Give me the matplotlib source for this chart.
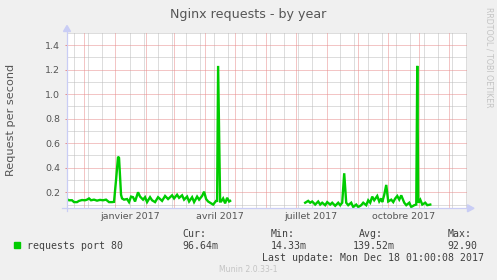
import datetime as dt
import numpy as np
import matplotlib
matplotlib.use("Agg")
import matplotlib.pyplot as plt
from matplotlib.lines import Line2D
from matplotlib.patches import Polygon, Rectangle

# time window of the munin "by year" graph (400 days)
start = dt.datetime(2016, 11, 14)
end = dt.datetime(2017, 12, 19)

# day offsets from start / requests per second (nan = no data)
days = [0, 2, 5, 7, 10, 12, 15, 18, 20, 22, 24, 27, 30, 33, 36, 39, 42, 45, 47,
        49, 51, 52, 54, 55, 57, 60, 62, 64, 66, 68, 71, 73, 76, 78, 80, 83, 85,
        88, 91, 95, 98, 101, 105, 107, 110, 112, 115, 117, 120, 122, 125, 127,
        130, 132, 135, 137, 139, 141, 144, 146, 149, 150, 151, 153, 154, 156,
        158, 160, 162, 163,
        200,
        238, 241, 243, 245, 248, 251, 253, 255, 258, 260, 263, 265, 268, 271,
        273, 275, 277, 279, 281, 284, 286, 289, 291, 294, 296, 299, 301, 303,
        305, 307, 310, 312, 314, 315, 317, 319, 321, 324, 326, 328, 330, 332,
        334, 337, 339, 342, 344, 347, 349, 350, 351, 353, 355, 358, 360, 363]
reqs = [0.143, 0.135, 0.135, 0.12, 0.12, 0.13, 0.137, 0.135, 0.14, 0.15, 0.135,
        0.14, 0.132, 0.138, 0.135, 0.14, 0.12, 0.12, 0.122,
        0.30, 0.49, 0.48, 0.18, 0.15, 0.14, 0.145, 0.12, 0.165, 0.16, 0.125,
        0.2, 0.165, 0.14, 0.16, 0.12, 0.16, 0.135,
        0.12, 0.16, 0.13, 0.17, 0.145, 0.175, 0.15, 0.18, 0.155, 0.175, 0.14,
        0.165, 0.125, 0.16, 0.12,
        0.165, 0.14, 0.17, 0.205, 0.145, 0.125, 0.11, 0.10, 0.13, 0.13, 1.23,
        0.125, 0.125, 0.15,
        0.11, 0.155, 0.125, 0.13,
        np.nan,
        0.115, 0.13, 0.115, 0.125, 0.10, 0.125, 0.10, 0.115, 0.095, 0.12, 0.10,
        0.115, 0.09, 0.115,
        0.095, 0.115, 0.355, 0.115, 0.095, 0.115, 0.08, 0.10, 0.08, 0.095,
        0.115, 0.095, 0.135, 0.115,
        0.165, 0.135, 0.17, 0.125, 0.15, 0.12, 0.18, 0.26, 0.125, 0.14, 0.12,
        0.15, 0.17, 0.14,
        0.175, 0.115, 0.095, 0.115, 0.08, 0.095, 0.10, 1.23, 0.115, 0.14, 0.10,
        0.115, 0.095, 0.10]

month_labels = ["janvier 2017", "avril 2017", "juillet 2017", "octobre 2017"]
label_dates = [dt.datetime(2017, 1, 16), dt.datetime(2017, 4, 16),
               dt.datetime(2017, 7, 16), dt.datetime(2017, 10, 16)]
y_major = [0.2, 0.4, 0.6, 0.8, 1.0, 1.2, 1.4]
y_minor = [0.1, 0.3, 0.5, 0.7, 0.9, 1.1, 1.3, 1.5]

series_name = "requests port 80"
stat_names = ["Cur:", "Min:", "Avg:", "Max:"]
stat_values = ["96.64m", "14.33m", "139.52m", "92.90"]
last_update = "Last update: Mon Dec 18 01:00:08 2017"

W, H = 497, 280
bg = "#f0f0f0"
txt = "#555555"
red_grid = "#e98c8c"
gray_grid = "#bcbcbc"
axis_col = "#c9cdf5"

fig = plt.figure(figsize=(W / 100, H / 100), dpi=100, facecolor=bg)

def fx(px):
    return px / W

def fy(py):
    return 1 - py / H

ax = fig.add_axes([fx(67), fy(208), fx(467.3) - fx(67), fy(33) - fy(208)])
ax.set_facecolor("white")
for s in ax.spines.values():
    s.set_visible(False)

x = [start + dt.timedelta(days=d) for d in days]
ax.set_xlim(start, end)
ax.set_ylim(0.072, 1.498)

grid_kw = dict(lw=0.72, ls=(0, (1, 1)))

# month starts (major) and two-week marks (minor)
month_starts = []
m = dt.datetime(2016, 12, 1)
while m < end:
    month_starts.append(m)
    m = dt.datetime(m.year + (m.month // 12), m.month % 12 + 1, 1)

d = dt.datetime(2016, 11, 21)
while d < end:
    if min(abs((d - ms).days) for ms in month_starts) > 1:
        ax.axvline(d, color=gray_grid, zorder=1, **grid_kw)
    d += dt.timedelta(days=14)
for v in y_minor:
    ax.axhline(v, color=gray_grid, zorder=1, **grid_kw)
for ms in month_starts:
    ax.axvline(ms, color=red_grid, zorder=2, **grid_kw)
for v in y_major:
    ax.axhline(v, color=red_grid, zorder=2, **grid_kw)

ax.plot(x, reqs, color="#00cc00", lw=1.7, zorder=3, solid_joinstyle="miter")

ax.set_yticks(y_major)
ax.set_yticklabels([f"{v:.1f}" for v in y_major])
ax.set_xticks(label_dates)
ax.set_xticklabels(month_labels)
ax.tick_params(axis="y", length=1.5, width=0.72, color=red_grid, pad=3.6,
               labelsize=6.8, labelcolor=txt)
ax.tick_params(axis="x", length=0, pad=3.0, labelsize=6.8, labelcolor=txt)

# axes with arrows, rrdtool style
fig.add_artist(Line2D([fx(67), fx(67)], [fy(31), fy(211)], color=axis_col, lw=0.9))
fig.add_artist(Line2D([fx(62), fx(468)], [fy(208.3), fy(208.3)], color=axis_col, lw=0.9))
fig.add_artist(Polygon([(fx(63.5), fy(31.5)), (fx(70.5), fy(31.5)), (fx(67), fy(25.5))],
                       closed=True, color=axis_col, transform=fig.transFigure))
fig.add_artist(Polygon([(fx(467.5), fy(204.8)), (fx(467.5), fy(211.8)), (fx(474), fy(208.3))],
                       closed=True, color=axis_col, transform=fig.transFigure))

fig.text(fx(247.8), fy(18.3), "Nginx requests - by year", ha="center",
         va="baseline", fontsize=9.1, color=txt)
fig.text(fx(11.5), fy(119.7), "Request per second", rotation=90, ha="center",
         va="center", fontsize=8.1, color=txt)
fig.text(fx(489), fy(57), "RRDTOOL / TOBI OETIKER", rotation=270, ha="center",
         va="center", fontsize=5.7, color="#c4c4c4")

# legend block
mono = "DejaVu Sans Mono"
leg_col = "#404040"
fig.add_artist(Rectangle((fx(14), fy(248)), fx(6), 6 / H, color="#00cc00",
                         transform=fig.transFigure))
fig.text(fx(27), fy(249.3), series_name, family=mono, fontsize=7.15,
         va="baseline", color=leg_col)
name_x = [182, 270.7, 359, 447.7]
val_x = [182, 270.3, 352.3, 447.3]
for nm, vl, nx, vx in zip(stat_names, stat_values, name_x, val_x):
    fig.text(fx(nx), fy(237.3), nm, family=mono, fontsize=7.15, va="baseline", color=leg_col)
    fig.text(fx(vx), fy(249.3), vl, family=mono, fontsize=7.15, va="baseline", color=leg_col)
fig.text(fx(261.7), fy(261), last_update, family=mono, fontsize=7.15,
         va="baseline", color=leg_col)
fig.text(fx(248.5), fy(271.7), "Munin 2.0.33-1", ha="center", va="baseline",
         fontsize=5.6, color="#c4c4c4")

fig.savefig("out.png", dpi=100, facecolor=bg)
